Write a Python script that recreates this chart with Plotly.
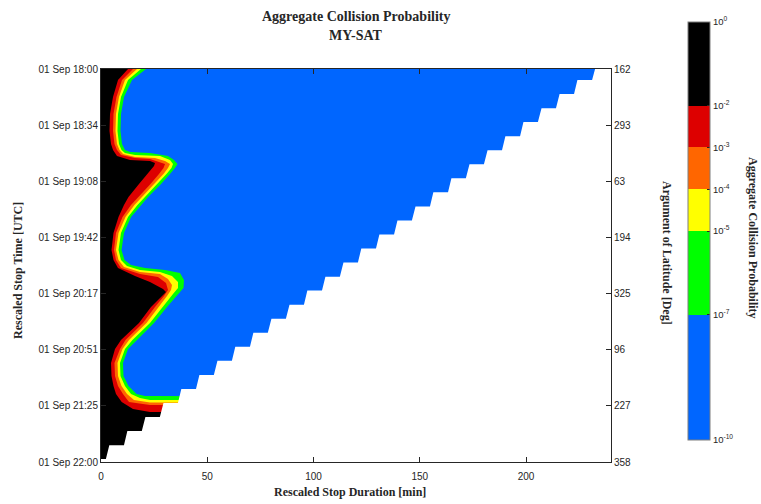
import plotly.graph_objects as go

# ---------------- data ----------------
# y axis: minutes after 01 Sep 18:00 (rescaled stop time)
time_tickvals = [0, 34.29, 68.57, 102.86, 137.14, 171.43, 205.71, 240]
time_labels = ["01 Sep 18:00", "01 Sep 18:34", "01 Sep 19:08", "01 Sep 19:42",
               "01 Sep 20:17", "01 Sep 20:51", "01 Sep 21:25", "01 Sep 22:00"]
arglat_labels = ["162", "293", "63", "194", "325", "96", "227", "358"]
dur_ticks = [0, 50, 100, 150, 200]

# contour boundaries (stop time [min], duration [min]) for each probability level
# green | blue  (1e-7)
g_t = [0, 6.72, 17.10, 27.48, 37.86, 45.80, 49.47, 50.69, 51.30, 53.13, 55.57, 58.02, 60.46,
       64.12, 70.23, 78.17, 83.06, 90.38, 100.15, 110.54, 116.64, 119.70, 121.53, 122.75,
       124.58, 128.86, 133.74, 137.41, 145.35, 155.12, 165.50, 170.99, 179.54, 187.48,
       193.59, 198.48, 199.70, 200.00]
g_x = [21.18, 14.59, 10.82, 9.41, 9.18, 9.88, 11.29, 13.65, 23.06, 31.53, 34.35, 36.00, 34.82,
       32.47, 28.24, 22.12, 18.82, 14.12, 10.82, 9.65, 11.06, 14.12, 20.71, 30.12,
       37.18, 39.06, 38.82, 36.24, 31.06, 24.94, 17.18, 12.71, 10.35, 10.59,
       12.94, 16.71, 20.71, 240]
# yellow | green (1e-5)
y_t = [0, 6.72, 17.10, 27.48, 37.86, 45.80, 49.47, 51.30, 52.52, 53.13, 55.57, 58.02, 60.46,
       64.12, 70.23, 78.17, 83.06, 90.38, 100.15, 110.54, 116.64, 120.31, 122.75, 123.97,
       126.41, 130.08, 133.74, 137.41, 145.35, 155.12, 165.50, 170.99, 179.54, 187.48,
       193.59, 198.48, 200.92, 202.14, 202.45]
y_x = [18.82, 12.71, 9.41, 8.00, 7.76, 8.47, 9.65, 11.29, 16.00, 27.76, 32.47, 33.88, 33.18,
       30.82, 26.35, 20.47, 17.18, 12.71, 9.41, 8.24, 9.41, 12.24, 18.35, 27.76,
       33.41, 36.24, 36.24, 33.88, 28.94, 23.06, 14.82, 11.29, 8.94, 9.18,
       11.29, 14.12, 18.35, 23.06, 240]
# orange | yellow (1e-4)
o_t = [0, 6.72, 17.10, 27.48, 37.86, 45.80, 49.47, 51.91, 53.74, 54.35, 56.18, 58.02, 60.46,
       64.12, 70.23, 78.17, 83.06, 90.38, 100.15, 110.54, 116.64, 120.92, 123.97, 125.19,
       128.25, 131.91, 134.96, 138.63, 145.35, 155.12, 165.50, 170.99, 179.54, 187.48,
       193.59, 198.48, 202.14, 203.67, 203.98]
o_x = [16.94, 11.29, 8.47, 7.06, 6.82, 7.53, 8.71, 10.35, 16.00, 25.41, 30.12, 32.47, 31.53,
       29.41, 24.94, 19.06, 15.76, 11.53, 8.24, 7.06, 8.24, 10.82, 18.35, 27.76,
       31.53, 33.41, 32.94, 31.06, 27.06, 21.41, 13.18, 10.12, 7.76, 8.00,
       9.65, 12.24, 15.53, 23.06, 240]
# red | orange (1e-3)
r_t = [0, 6.72, 17.10, 27.48, 37.86, 45.80, 49.47, 52.52, 54.35, 54.96, 56.80, 58.02, 60.46,
       64.12, 70.23, 78.17, 83.06, 90.38, 100.15, 110.54, 116.64, 121.53, 125.19, 127.03,
       130.69, 134.96, 138.63, 145.35, 155.12, 165.50, 170.99, 179.54, 187.48, 193.59,
       198.48, 203.36, 205.20, 205.51]
r_x = [15.06, 9.88, 7.29, 5.88, 5.65, 6.35, 7.53, 9.41, 16.00, 23.06, 27.76, 30.12, 29.41,
       27.29, 23.29, 17.41, 14.12, 10.12, 7.06, 6.12, 7.06, 9.41, 18.35, 26.82,
       30.59, 31.53, 29.65, 25.41, 19.76, 11.53, 8.94, 6.35, 6.59, 8.00,
       10.35, 13.18, 23.06, 240]
# black | red (1e-2)
b_t = [0, 6.72, 17.10, 27.48, 37.86, 45.80, 49.47, 53.13, 55.57, 56.18, 57.41, 59.24, 64.12,
       70.23, 78.17, 83.06, 90.38, 100.15, 110.54, 116.64, 121.53, 126.41, 130.08, 134.35,
       136.18, 139.85, 145.35, 155.12, 165.50, 170.99, 179.54, 187.48, 193.59, 198.48,
       203.36, 207.64, 209.47, 209.78]
b_x = [12.71, 8.00, 5.65, 4.24, 4.00, 4.71, 5.65, 7.53, 13.65, 23.06, 25.41, 24.94, 21.65,
       17.88, 12.94, 10.82, 8.24, 5.88, 4.94, 5.88, 8.00, 16.00, 23.06, 29.18,
       30.59, 27.76, 23.53, 17.88, 9.41, 6.59, 4.71, 4.94, 5.88, 7.06,
       9.74, 15.06, 23.06, 240]

# data-availability limit (staircase): row time, right and left end of each step
edge_top_x = 232.5
step_t = [6.7, 15.3, 23.9, 32.4, 41.0, 49.6, 58.2, 66.7, 75.3, 83.9, 92.5, 101.0, 109.6, 118.2,
          126.8, 135.3, 143.9, 152.5, 161.1, 169.6, 178.2, 186.8, 195.4, 203.9, 212.5, 221.1,
          229.7, 238.2]
step_right = [231.1, 222.6, 214.1, 205.6, 197.2, 188.7, 180.2, 171.7, 163.3, 154.8, 146.3,
              137.9, 129.4, 120.9, 112.4, 104.0, 95.5, 87.0, 78.5, 70.1, 61.6, 53.1, 44.7,
              36.2, 27.7, 19.2, 10.8, 2.3]
step_left = [224.2, 215.8, 207.3, 198.8, 190.3, 181.9, 173.4, 164.9, 156.4, 148.0, 139.5,
             131.0, 122.5, 114.1, 105.6, 97.1, 88.7, 80.2, 71.7, 63.2, 54.8, 46.3, 37.8,
             29.4, 20.9, 12.4, 3.9, 0.0]

# colour levels (log10 of probability)
cb_tickvals = [-10, -7, -5, -4, -3, -2, 0]
cb_ticktext = ["10<sup>-10</sup>", "10<sup>-7</sup>", "10<sup>-5</sup>", "10<sup>-4</sup>",
               "10<sup>-3</sup>", "10<sup>-2</sup>", "10<sup>0</sup>"]

# ---------------- style ----------------
BLUE = "#0066FF"
GREEN = "#00FF00"
YELLOW = "#FFFF00"
ORANGE = "#FF6600"
RED = "#DD0000"
BLACK = "#000000"
AX = "#262626"
SERIF = "Liberation Serif, Times New Roman, serif"
SANS = "Liberation Sans, Arial, sans-serif"

XMAX, TMAX = 240, 240

fig = go.Figure()


def poly(xs, ys, color):
    fig.add_trace(go.Scatter(x=xs, y=ys, mode="lines", fill="toself", fillcolor=color,
                             line=dict(width=0, color=color), hoverinfo="skip",
                             showlegend=False))


poly([0, XMAX, XMAX, 0], [0, 0, TMAX, TMAX], BLUE)
for tt, xx, col in [(g_t, g_x, GREEN), (y_t, y_x, YELLOW), (o_t, o_x, ORANGE),
                    (r_t, r_x, RED), (b_t, b_x, BLACK)]:
    poly([0] + list(xx) + [XMAX, 0], [0] + list(tt) + [TMAX, TMAX], col)

# white area beyond the data limit
wx, wy = [edge_top_x], [0]
for t, xr, xl in zip(step_t, step_right, step_left):
    wx += [xr, xl]
    wy += [t, t]
wx += [0, XMAX, XMAX]
wy += [TMAX, TMAX, 0]
poly(wx, wy, "#FFFFFF")

# colour bar carrier (points lie outside the visible range)
cscale = [[0.0, BLUE], [0.3, BLUE], [0.3, GREEN], [0.5, GREEN], [0.5, YELLOW], [0.6, YELLOW],
          [0.6, ORANGE], [0.7, ORANGE], [0.7, RED], [0.8, RED], [0.8, BLACK], [1.0, BLACK]]
fig.add_trace(go.Scatter(
    x=[-50, -50], y=[10, 20], yaxis="y2", mode="markers", showlegend=False, hoverinfo="skip",
    marker=dict(color=[-10, 0], cmin=-10, cmax=0, colorscale=cscale, showscale=True,
                colorbar=dict(lenmode="pixels", len=418, thickness=22, x=1.151, xanchor="left",
                              xpad=0, y=(462 - 22) / 393, yanchor="top", ypad=0,
                              outlinewidth=1, outlinecolor="#7f7f7f",
                              tickvals=cb_tickvals, ticktext=cb_ticktext, ticks="inside",
                              ticklen=3, tickcolor=AX,
                              tickfont=dict(family=SANS, size=9.5, color=AX)))))

axis_common = dict(showgrid=False, zeroline=False, showline=True, linecolor=AX, linewidth=1,
                   ticks="inside", ticklen=5, tickcolor=AX, tickwidth=1,
                   tickfont=dict(family=SANS, size=10, color=AX))

fig.update_layout(
    width=761, height=504, margin=dict(l=101, r=150, t=69, b=42),
    paper_bgcolor="white", plot_bgcolor="white", showlegend=False,
    xaxis=dict(range=[0, XMAX], tickvals=dur_ticks, mirror="ticks", ticklabelstandoff=5,
               **axis_common),
    yaxis=dict(range=[TMAX, 0], tickvals=time_tickvals, ticktext=time_labels, mirror="ticks",
               **axis_common),
    yaxis2=dict(range=[TMAX, 0], tickvals=time_tickvals, ticktext=arglat_labels,
                overlaying="y", side="right", anchor="x", **axis_common),
)

ann = [
    dict(text="<b>Aggregate Collision Probability</b>", x=0.5, y=(462 - 17) / 393, size=14, angle=0),
    dict(text="<b>MY-SAT</b>", x=0.5, y=(462 - 36) / 393, size=14, angle=0),
    dict(text="<b>Rescaled Stop Duration [min]</b>", x=(350 - 101) / 510, y=(462 - 492) / 393, size=12, angle=0),
    dict(text="<b>Rescaled Stop Time [UTC]</b>", x=(18 - 101) / 510, y=(462 - 271) / 393, size=12, angle=-90),
    dict(text="<b>Argument of Latitude [Deg]</b>", x=(667 - 101) / 510, y=(462 - 253) / 393, size=12, angle=90),
    dict(text="<b>Aggregate Collision Probability</b>", x=(753 - 101) / 510, y=(462 - 238) / 393, size=12, angle=90),
]
for a in ann:
    fig.add_annotation(text=a["text"], x=a["x"], y=a["y"], xref="paper", yref="paper",
                       xanchor="center", yanchor="middle", showarrow=False, textangle=a["angle"],
                       font=dict(family=SERIF, size=a["size"], color=AX))

fig.write_html("out.html")
